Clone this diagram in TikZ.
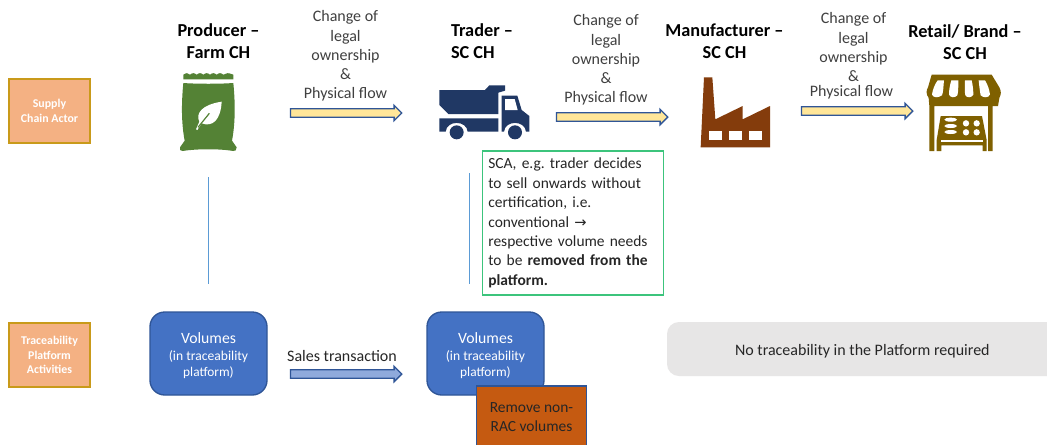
\documentclass[tikz,border=0pt]{standalone}
\usepackage{fontspec}
\setmainfont{Carlito}
\newfontfamily\symfont{DejaVu Sans}
\usetikzlibrary{shapes.arrows}
\frenchspacing
\definecolor{txt}{HTML}{404040}
\definecolor{blueline}{HTML}{5B9BD5}
\definecolor{arrowedge}{HTML}{2F5597}
\definecolor{arrowfill}{HTML}{FFE699}
\definecolor{salesfill}{HTML}{8FAADC}
\definecolor{actorfill}{HTML}{F4B183}
\definecolor{actoredge}{HTML}{C99A1A}
\definecolor{volfill}{HTML}{4472C4}
\definecolor{voledge}{HTML}{2F5597}
\definecolor{removefill}{HTML}{C55A11}
\definecolor{greybox}{HTML}{E7E6E6}
\definecolor{greenedge}{HTML}{3CC47C}
\definecolor{bag}{HTML}{548235}
\definecolor{truck}{HTML}{203864}
\definecolor{factory}{HTML}{843C0C}
\definecolor{shop}{HTML}{7F6000}
\newcommand{\voltext}{\fontsize{11.8}{14}\selectfont Volumes\\[1pt]\fontsize{10.2}{11.8}\selectfont (in traceability\\platform)}
\tikzset{
  header/.style={font=\fontsize{13.7}{16.5}\selectfont\bfseries,text=black,align=center,inner sep=0pt},
  flowlabel/.style={font=\fontsize{12}{14.4}\selectfont,text=txt,align=center,inner sep=0pt},
  flowarrow/.style={single arrow,draw=arrowedge,fill=arrowfill,line width=1pt,inner xsep=0pt,inner ysep=2pt,
    minimum width=11.5pt,minimum height=83.5pt,single arrow head extend=2pt,single arrow head indent=0pt},
  actorbox/.style={draw=actoredge,fill=actorfill,line width=1pt,minimum width=60.75pt,minimum height=48pt,
    inner sep=0pt,align=center,text=white,font=\fontsize{8.9}{10.8}\selectfont\bfseries},
  volbox/.style={draw=voledge,fill=volfill,line width=1pt,rounded corners=11pt,minimum width=87.75pt,
    minimum height=62.25pt,inner sep=0pt},
  vollabel/.style={inner sep=0pt,align=center,text=white,yshift=-1.5pt},
  link/.style={draw=blueline,line width=0.75pt}
}
\begin{document}
\begin{tikzpicture}[x=0.75pt,y=-0.75pt]
\useasboundingbox (0,0) rectangle (1047,444);
\fill[white] (0,0) rectangle (1047,444);

% headers
\node[header] (hprod) at (218.5,41) {Producer --\\Farm CH};
\node[header,align=left] (htrad) at (482,41) {Trader --\\SC CH};
\node[header] (hman) at (724.5,41) {Manufacturer --\\SC CH};
\node[header] (hret) at (965,42.5) {Retail/ Brand --\\SC CH};

% flow labels
\node[flowlabel] (l1) at (345.5,56) {Change of\\legal\\ownership\\\&\\Physical flow};
\node[flowlabel] (l2) at (606,60) {Change of\\legal\\ownership\\\&\\Physical flow};
\node[flowlabel] (l3) at (853.5,56) {Change of\\legal\\ownership\\\&\\[-3pt]\hspace*{-3pt}Physical flow};

% flow arrows
\node[flowarrow] (a1) at (344,113) {};
\node[flowarrow] (a2) at (610,117) {};
\node[flowarrow] (a3) at (855,111) {};

% bag icon
\begin{scope}[shift={(170,70)},x=0.25pt,y=-0.25pt]
\fill[bag] (40,28) -- (40,14) .. controls (50,8) and (52,8) .. (60,14) .. controls (68,8) and (72,8) .. (80,14)
  .. controls (88,8) and (92,8) .. (100,14) .. controls (108,8) and (112,8) .. (120,14)
  .. controls (128,8) and (132,8) .. (140,14) .. controls (148,8) and (152,8) .. (160,14)
  .. controls (168,8) and (176,8) .. (190,14) -- (190,28) -- cycle;
\fill[bag] (40,39) .. controls (80,42) and (150,42) .. (190,39)
  .. controls (196,100) and (196,160) .. (186,212) -- (200,232) .. controls (200,240) and (196,244) .. (190,243)
  .. controls (150,236) and (80,236) .. (38,243) .. controls (30,244) and (28,238) .. (30,232) -- (44,212)
  .. controls (34,160) and (34,100) .. (40,39) -- cycle;
\fill[white] (78,178) -- (88,155) .. controls (76,130) and (96,104) .. (155,95)
  .. controls (152,150) and (128,172) .. (95,160) -- (82,180) -- cycle;
\draw[bag,line width=0.9pt] (84,172) -- (118,130);
\end{scope}

% truck icon
\begin{scope}[shift={(430,80)},x=0.25pt,y=-0.25pt]
\fill[truck] (28,30) -- (165,30) -- (178,16) -- (225,16) -- (225,32) -- (205,38) -- (205,102) -- (55,102) -- (28,75) -- cycle;
\fill[truck] (28,115) -- (205,115) -- (205,155) -- (113,155) .. controls (110,120) and (50,120) .. (47,155) -- (28,155) -- cycle;
\fill[truck] (215,47) -- (262,47) -- (275,90) -- (298,108) -- (298,155) -- (288,155)
  .. controls (285,120) and (225,120) .. (222,155) -- (215,155) -- cycle;
\fill[white] (225,57) -- (254,57) -- (263,90) -- (225,90) -- cycle;
\fill[truck] (80,157) circle (21);
\fill[truck] (255,157) circle (21);
\end{scope}

% factory icon
\begin{scope}[shift={(650,0)},x=0.25pt,y=-0.25pt]
\fill[factory] (162,232) -- (187,232) -- (196,358) -- (278,318) -- (278,358) -- (360,318) -- (360,442) -- (152,442) -- cycle;
\fill[white] (177,393) rectangle (215,421);
\fill[white] (238,393) rectangle (276,421);
\fill[white] (298,393) rectangle (336,421);
\end{scope}

% shop icon
\begin{scope}[shift={(920,70)},x=0.25pt,y=-0.25pt]
\fill[shop] (35,14) -- (215,14) -- (238,52) .. controls (244,64) and (244,72) .. (238,84) -- (234,108) -- (218,108)
  -- (218,243) -- (204,243) -- (204,108) -- (43,108) -- (43,243) -- (28,243) -- (28,108) -- (26,84)
  .. controls (18,72) and (18,62) .. (24,52) -- cycle;
\fill[white] (53,31) -- (72,31) .. controls (70,50) and (70,66) .. (66,76) .. controls (55,84) and (40,84) .. (36,74) .. controls (38,58) and (44,44) .. (53,31) -- cycle;
\fill[white] (94,31) -- (115,31) .. controls (115,50) and (115,66) .. (112,76) .. controls (105,84) and (92,84) .. (87,74) .. controls (87,58) and (90,44) .. (94,31) -- cycle;
\fill[white] (135,31) -- (155,31) .. controls (158,44) and (160,58) .. (160,74) .. controls (155,84) and (140,84) .. (136,76) .. controls (134,66) and (134,50) .. (135,31) -- cycle;
\fill[white] (176,31) -- (195,31) .. controls (203,44) and (208,58) .. (210,74) .. controls (205,84) and (190,84) .. (182,76) .. controls (180,66) and (178,50) .. (176,31) -- cycle;
\fill[shop] (62,138) -- (186,138) -- (200,210) -- (200,243) -- (188,243) -- (188,226) -- (64,226) -- (64,243) -- (50,243) -- (50,210) -- cycle;
\fill[white] (62,211) rectangle (188,216);
\fill[white] (92,149) ellipse (19 and 6);
\fill[white] (92,168) ellipse (19 and 6);
\fill[white] (92,186) ellipse (19 and 6);
\fill[white] (138,160) circle (9.5);
\fill[white] (170,160) circle (9.5);
\fill[white] (138,187) circle (9.5);
\fill[white] (170,187) circle (9.5);
\end{scope}

% side labels
\node[actorbox] (sca) at (49.5,111) {Supply\\Chain Actor};
\node[actorbox] (tpa) at (49.5,355) {Traceability\\Platform\\Activities};

% vertical lines
\coordinate (v1t) at (208.5,177);
\coordinate (v1b) at (208.5,284);
\coordinate (v2t) at (469.5,173);
\coordinate (v2b) at (469.5,284);
\draw[link] (v1t) -- (v1b);
\draw[link] (v2t) -- (v2b);

% green note
\node[draw=greenedge,fill=white,line width=0.8pt,minimum width=135.75pt,minimum height=108pt,inner sep=0pt,
  text width=127pt,align=left,text=black!85,font=\fontsize{11.6}{14.55}\selectfont] (note) at (573,223)
  {SCA, e.g. trader decides\\to sell onwards without\\certification, i.e.\\conventional {\symfont\fontsize{11}{14.55}\selectfont →}\\respective volume needs\\to be \textbf{removed from the}\\\textbf{platform.}};

% volumes
\node[volbox,label={[vollabel]center:\voltext}] (vol1) at (208.5,353.5) {};
\node[volbox,label={[vollabel]center:\voltext}] (vol2) at (485.5,353.5) {};
\node[draw=voledge,fill=removefill,line width=1pt,minimum width=82.5pt,minimum height=46.5pt,inner sep=0pt,
  align=center,text=black!85,font=\fontsize{11.6}{14.2}\selectfont] (rem) at (531.5,417) {Remove non-\\RAC volumes};

% sales arrow
\node[flowarrow,fill=salesfill] (a4) at (344,374) {};
\node[flowlabel,text=black!85] (sales) at (342,356) {Sales transaction};

% grey box
\node[fill=greybox,rounded corners=9pt,minimum width=294pt,minimum height=40.5pt,inner sep=0pt,
  label={[inner sep=0pt,text=black!85,font=\fontsize{12}{14}\selectfont,yshift=-1.5pt,xshift=-0.5pt]center:No traceability in the Platform required}] (grey) at (863,349) {};
\end{tikzpicture}
\end{document}
